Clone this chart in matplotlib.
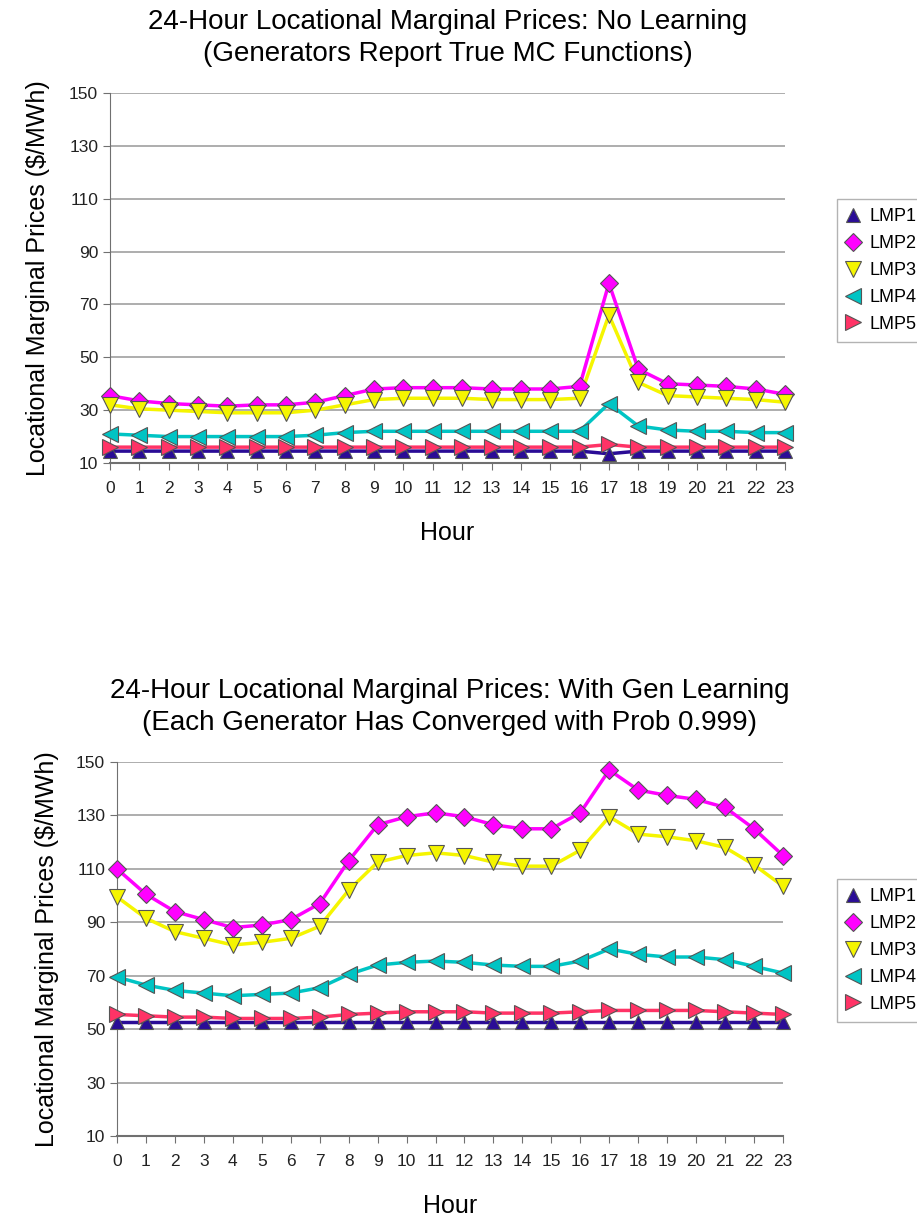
import matplotlib
matplotlib.use("Agg")
import matplotlib.pyplot as plt

plt.rcParams['font.family'] = ['Liberation Sans', 'DejaVu Sans']

hours = list(range(24))

# top chart: no learning
top_lmp1 = [14.5]*17 + [13.5] + [14.5]*6
top_lmp2 = [35.5, 33.5, 32.5, 32, 31.5, 32, 32, 33, 35.5, 38, 38.5, 38.5,
            38.5, 38, 38, 38, 39, 78, 45.5, 40, 39.5, 39, 38, 36]
top_lmp3 = [32, 30.5, 30, 29.5, 29, 29, 29, 30, 32, 34, 34.5, 34.5,
            34.5, 34, 34, 34, 34.5, 66, 40.5, 35.5, 35, 34.5, 34, 33]
top_lmp4 = [21, 20.5, 20, 20, 20, 20, 20, 20.5, 21.5, 22, 22, 22,
            22, 22, 22, 22, 22, 32.5, 24, 22.5, 22, 22, 21.5, 21.5]
top_lmp5 = [16]*17 + [17] + [16]*6

# bottom chart: with gen learning
bot_lmp1 = [52.5]*24
bot_lmp2 = [110, 100.5, 94, 91, 88, 89, 91, 97, 113, 126.5, 129.5, 131,
            129.5, 126.5, 125, 125, 131, 147, 139.5, 137.5, 136, 133, 125, 115]
bot_lmp3 = [99.5, 91.5, 86.5, 84, 81.5, 82.5, 84, 88.5, 102, 112.5, 115, 116,
            115, 112.5, 111, 111, 117, 129.5, 123, 122, 120.5, 118, 111.5, 103.5]
bot_lmp4 = [69.5, 66.5, 64.5, 63.5, 62.5, 63, 63.5, 65.5, 70.5, 74, 75, 75.5,
            75, 74, 73.5, 73.5, 75.5, 80, 78, 77, 77, 76, 73.5, 71]
bot_lmp5 = [55.5, 55, 54.5, 54.5, 54, 54, 54, 54.5, 55.5, 56, 56.5, 56.5,
            56.5, 56, 56, 56, 56.5, 57, 57, 57, 57, 56.5, 56, 55.5]

names = ["LMP1", "LMP2", "LMP3", "LMP4", "LMP5"]
colors = ["#2a0c96", "#ff00ff", "#f5f500", "#00c4c4", "#ff3366"]
markers = ["^", "D", "v", "<", ">"]
msizes = [10, 9, 11, 11, 11]

fig = plt.figure(figsize=(9.17, 12.26), dpi=100)


def draw(rect, series, title, legend_top, ylpad):
    ax = fig.add_axes(rect)
    handles = []
    for vals, name, c, m, ms in zip(series, names, colors, markers, msizes):
        ax.plot(hours, vals, color=c, lw=2.5, clip_on=False, zorder=3)
        h, = ax.plot(hours, vals, ls="none", marker=m, ms=ms, mfc=c,
                     mec="#555555", mew=0.8, clip_on=False, zorder=4, label=name)
        handles.append(h)
    ax.set_xlim(0, 23)
    ax.set_ylim(10, 150)
    ax.set_yticks(range(10, 151, 20))
    ax.set_xticks(hours)
    ax.grid(axis="y", color="#a0a0a0", lw=1.2)
    ax.set_axisbelow(True)
    for s in ["top", "right"]:
        ax.spines[s].set_visible(False)
    ax.spines["left"].set_color("#707070")
    ax.spines["bottom"].set_color("#707070")
    ax.spines["bottom"].set_linewidth(1.5)
    ax.tick_params(axis="both", colors="#707070", length=5, labelsize=12.5,
                   labelcolor="#222222")
    ax.tick_params(axis="x", pad=8)
    ax.set_ylabel("Locational Marginal Prices ($/MWh)", fontsize=18, labelpad=ylpad)
    ax.set_xlabel("Hour", fontsize=18, labelpad=18)
    ax.set_title(title, fontsize=20, pad=23, linespacing=1.3)
    leg = fig.legend(handles=handles, loc="upper left",
                     bbox_to_anchor=(828 / 917, legend_top), fontsize=13,
                     frameon=True, fancybox=False, edgecolor="#a0a0a0",
                     handlelength=0.8, handletextpad=0.5, labelspacing=0.55,
                     borderpad=0.5)
    leg.get_frame().set_linewidth(1.0)
    return ax


draw([110 / 917, 1 - 463 / 1226, 675 / 917, 370 / 1226],
     [top_lmp1, top_lmp2, top_lmp3, top_lmp4, top_lmp5],
     "24-Hour Locational Marginal Prices: No Learning\n(Generators Report True MC Functions)",
     1 - 190 / 1226, 14)
draw([117 / 917, 1 - 1136 / 1226, 666 / 917, 374 / 1226],
     [bot_lmp1, bot_lmp2, bot_lmp3, bot_lmp4, bot_lmp5],
     "24-Hour Locational Marginal Prices: With Gen Learning\n(Each Generator Has Converged with Prob 0.999)",
     1 - 870 / 1226, 12)

fig.savefig("out.png", dpi=100, facecolor="white")
